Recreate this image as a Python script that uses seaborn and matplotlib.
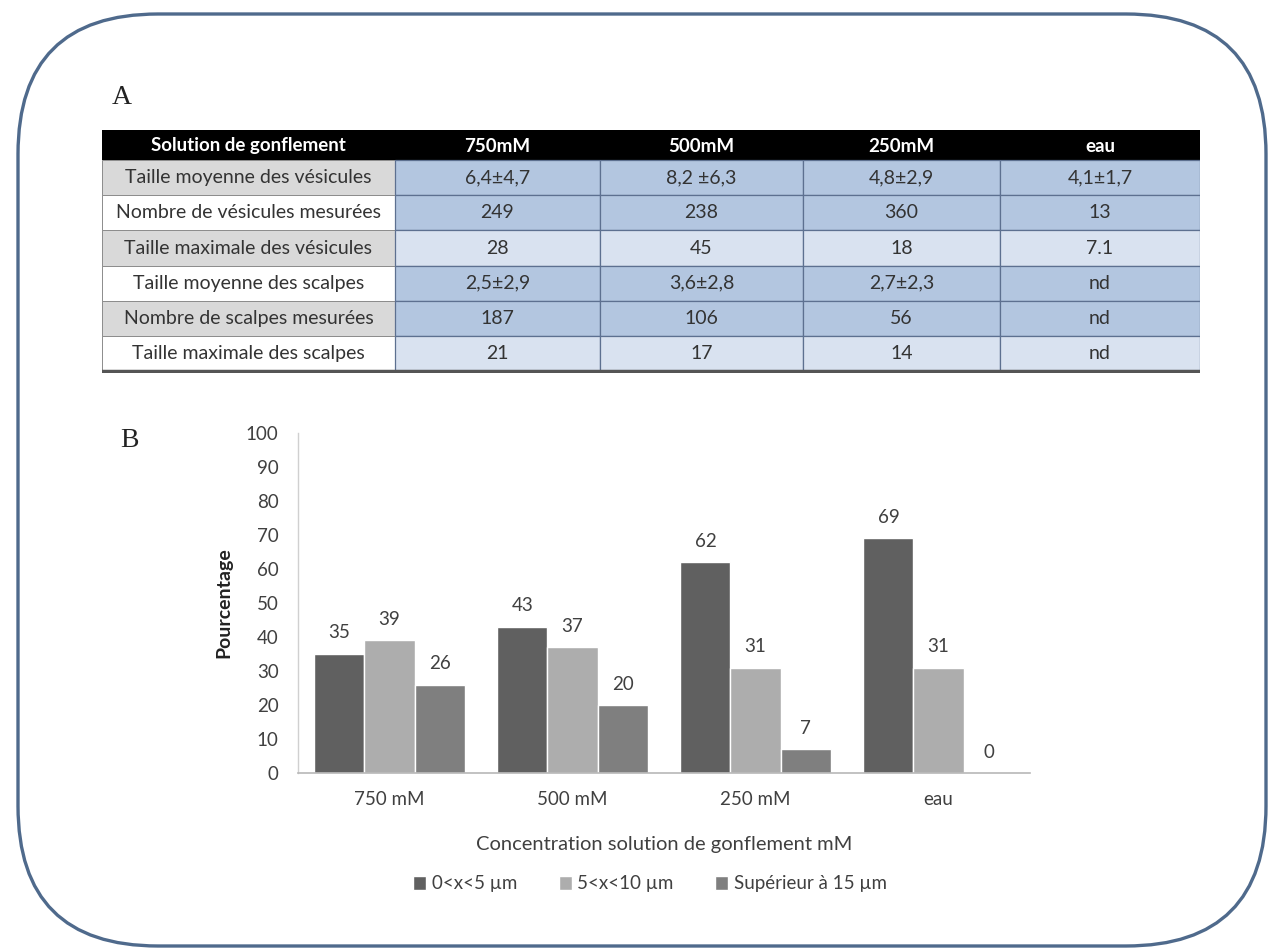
import matplotlib
matplotlib.use("Agg")
import matplotlib.pyplot as plt
from matplotlib.patches import FancyBboxPatch, Rectangle
import seaborn as sns
import pandas as pd

sns.set_theme(style="white")
plt.rcParams['font.family'] = ['Lato', 'DejaVu Sans']

# ---------------- data ----------------
table_header = ["Solution de gonflement", "750mM", "500mM", "250mM", "eau"]
row_labels = ["Taille moyenne des vésicules", "Nombre de vésicules mesurées",
              "Taille maximale des vésicules", "Taille moyenne des scalpes",
              "Nombre de scalpes mesurées", "Taille maximale des scalpes"]
row_750 = ["6,4±4,7", "249", "28", "2,5±2,9", "187", "21"]
row_500 = ["8,2 ±6,3", "238", "45", "3,6±2,8", "106", "17"]
row_250 = ["4,8±2,9", "360", "18", "2,7±2,3", "56", "14"]
row_eau = ["4,1±1,7", "13", "7.1", "nd", "nd", "nd"]

categories = ["750 mM", "500 mM", "250 mM", "eau"]
series_names = ["0<x<5 µm", "5<x<10 µm", "Supérieur à 15 µm"]
small = [35, 43, 62, 69]
medium = [39, 37, 31, 31]
large = [26, 20, 7, 0]

W, H = 1269, 949
fig = plt.figure(figsize=(W / 100, H / 100), dpi=100)
fig.patch.set_facecolor("white")

# ---------------- background frame ----------------
bg = fig.add_axes([0, 0, 1, 1], zorder=0)
bg.set_xlim(0, W)
bg.set_ylim(H, 0)
bg.axis("off")
bg.add_patch(FancyBboxPatch((18, 14), 1248, 932,
                            boxstyle="round,pad=0,rounding_size=140",
                            fc="white", ec="#4f6a8c", lw=2.4))
bg.text(112, 97, "A", fontsize=20, family="Liberation Serif", color="#222222",
        va="center", ha="left")
bg.text(120, 440, "B", fontsize=20, family="Liberation Serif", color="#222222",
        va="center", ha="left")

# ---------------- table ----------------
tx0, ty0, tw, th = 102, 130, 1098, 243
tab = fig.add_axes([tx0 / W, 1 - (ty0 + th) / H, tw / W, th / H], zorder=1)
tab.set_xlim(0, tw)
tab.set_ylim(th, 0)
tab.axis("off")
col_edges = [0, 293, 498, 701, 898, 1098]
head_h = 30
row_h = 35.2
tab.add_patch(Rectangle((0, 0), tw, head_h, fc="black", ec="none"))
for j, txt in enumerate(table_header):
    cx = (col_edges[j] + col_edges[j + 1]) / 2
    tab.text(cx, head_h / 2 + 1, txt, color="white", fontsize=13.5,
             fontweight="bold", ha="center", va="center")
cols = [row_750, row_500, row_250, row_eau]
label_fc = ["#d9d9d9", "white"]
data_fc = ["#b3c6e0", "#b3c6e0", "#d9e2f0", "#b3c6e0", "#b3c6e0", "#d9e2f0"]
for i, lab in enumerate(row_labels):
    y0 = head_h + i * row_h
    tab.add_patch(Rectangle((0, y0), col_edges[1], row_h,
                            fc=label_fc[i % 2], ec="#8c8c8c", lw=0.7))
    tab.text(col_edges[1] / 2, y0 + row_h / 2, lab, fontsize=14,
             color="#333333", ha="center", va="center")
    for j, col in enumerate(cols):
        x0 = col_edges[j + 1]
        tab.add_patch(Rectangle((x0, y0), col_edges[j + 2] - x0, row_h,
                                fc=data_fc[i], ec="#5d7090", lw=0.9))
        tab.text((x0 + col_edges[j + 2]) / 2, y0 + row_h / 2, col[i],
                 fontsize=14, color="#333333", ha="center", va="center")
tab.plot([0, tw], [head_h + 6 * row_h, head_h + 6 * row_h], color="#555555", lw=2.5)

# ---------------- bar chart ----------------
df = pd.DataFrame({
    "conc": categories * 3,
    "pct": small + medium + large,
    "size": [series_names[0]] * 4 + [series_names[1]] * 4 + [series_names[2]] * 4,
})
ax = fig.add_axes([298 / W, 1 - 773 / H, 732 / W, 340 / H], zorder=2)
palette = ["#606060", "#adadad", "#7f7f7f"]
sns.barplot(data=df, x="conc", y="pct", hue="size", palette=palette,
            saturation=1, width=0.82, ax=ax, order=categories,
            hue_order=series_names)
ax.set_ylim(0, 100)
ax.set_yticks(range(0, 101, 10))
ax.set_facecolor("none")
for c in ax.containers:
    ax.bar_label(c, padding=9, fontsize=13.5, color="#404040")
for s in ["top", "right"]:
    ax.spines[s].set_visible(False)
ax.spines["left"].set_color("#d0d0d0")
ax.spines["bottom"].set_color("#b8b8b8")
ax.spines["left"].set_linewidth(1)
ax.spines["bottom"].set_linewidth(1.2)
ax.tick_params(axis="both", length=0, labelsize=13.5, labelcolor="#404040")
ax.tick_params(axis="y", pad=14)
ax.tick_params(axis="x", pad=13)
ax.set_ylabel("Pourcentage", fontsize=14, fontweight="bold", color="#222222",
              labelpad=10)
ax.set_xlabel("Concentration solution de gonflement mM", fontsize=14.5,
              color="#404040", labelpad=20)
handles, labels = ax.get_legend_handles_labels()
ax.get_legend().remove()
fig.legend(handles, labels, loc="center", bbox_to_anchor=(650 / W, 1 - 884 / H),
           ncol=3, frameon=False, fontsize=13.5, handlelength=0.7,
           handleheight=0.7, handletextpad=0.3, columnspacing=2.2,
           labelcolor="#404040")

fig.savefig("out.png", dpi=100, facecolor="white")
